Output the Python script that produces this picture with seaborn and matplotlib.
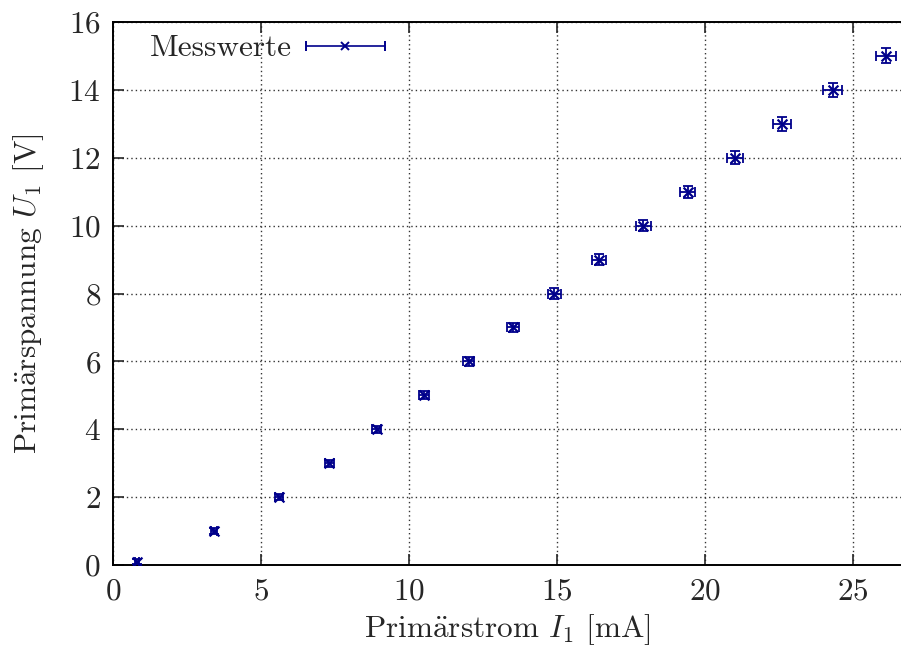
import numpy as np
import pandas as pd
import matplotlib
matplotlib.use("Agg")
import matplotlib.pyplot as plt
from matplotlib.legend_handler import HandlerErrorbar
import seaborn as sns

# Messdaten: Primärstrom I1 [mA] und Primärspannung U1 [V] mit Unsicherheiten
strom_mA = [0.8, 3.4, 5.6, 7.3, 8.9, 10.5, 12.0, 13.5, 14.9, 16.4, 17.9, 19.4, 21.0, 22.6, 24.3, 26.1]
spannung_V = [0.1, 1, 2, 3, 4, 5, 6, 7, 8, 9, 10, 11, 12, 13, 14, 15]
strom_err = [0.08, 0.10, 0.13, 0.14, 0.16, 0.18, 0.19, 0.21, 0.22, 0.23, 0.25, 0.26, 0.28, 0.30, 0.31, 0.33]
spannung_err = [0.07, 0.08, 0.09, 0.10, 0.11, 0.12, 0.13, 0.14, 0.15, 0.16, 0.17, 0.18, 0.19, 0.20, 0.21, 0.22]

x_ticks = [0, 5, 10, 15, 20, 25]
y_ticks = [0, 2, 4, 6, 8, 10, 12, 14, 16]

df = pd.DataFrame({"I1": strom_mA, "U1": spannung_V,
                   "dI": strom_err, "dU": spannung_err})

sns.set_theme(style="ticks")
plt.rcParams["font.family"] = ["cmr10", "DejaVu Serif"]
plt.rcParams["mathtext.fontset"] = "cm"
plt.rcParams["axes.formatter.use_mathtext"] = True
plt.rcParams["axes.unicode_minus"] = False

farbe = "#00008b"
fs = 22.5

fig = plt.figure(figsize=(9.01, 6.55), dpi=100)
ax = fig.add_axes([113.3 / 901, 90 / 655, 1 - 113.3 / 901, 543 / 655])

ax.errorbar(df["I1"], df["U1"], xerr=df["dI"], yerr=df["dU"], fmt="none",
            ecolor=farbe, elinewidth=1.3, capsize=3.5, capthick=1.3, zorder=3)
sns.scatterplot(data=df, x="I1", y="U1", marker="x", color=farbe, s=50,
                linewidth=1.6, ax=ax, zorder=4, legend=False)

# Legendeneintrag im gnuplot-Stil: Text links, Fehlerbalken rechts
handle = ax.errorbar([np.nan], [np.nan], xerr=[1.0], fmt="x", color=farbe,
                     ecolor=farbe, elinewidth=1.2, capsize=3.5, capthick=1.2,
                     markersize=6, mew=1.4)
ax.legend([handle], ["Messwerte"], loc="upper left", frameon=False,
          markerfirst=False, fontsize=fs, handlelength=2.55, handletextpad=0.45,
          borderaxespad=0.0, bbox_to_anchor=(0.03, 1.0),
          handler_map={type(handle): HandlerErrorbar(xerr_size=1.27, yerr_size=0.0)})

ax.set_xlim(0, (901 - 113.3) / 29.6)
ax.set_ylim(0, 16)
ax.set_xticks(x_ticks)
ax.set_yticks(y_ticks)
ax.grid(True, linestyle=(0, (1, 2.2)), color="#333333", linewidth=1.0)
ax.tick_params(direction="in", length=8, width=1.2, top=True, right=False,
               labelsize=fs, pad=9)
for side in ["left", "bottom", "top"]:
    ax.spines[side].set_linewidth(1.4)
    ax.spines[side].set_color("black")
ax.spines["right"].set_visible(False)

ax.set_xlabel(r"Prim$\ddot{\mathrm{a}}$rstrom $I_1$ [mA]", fontsize=fs, labelpad=5)
ax.set_ylabel(r"Prim$\ddot{\mathrm{a}}$rspannung $U_1$ [V]", fontsize=fs, labelpad=16)

fig.savefig("out.png", dpi=100)
